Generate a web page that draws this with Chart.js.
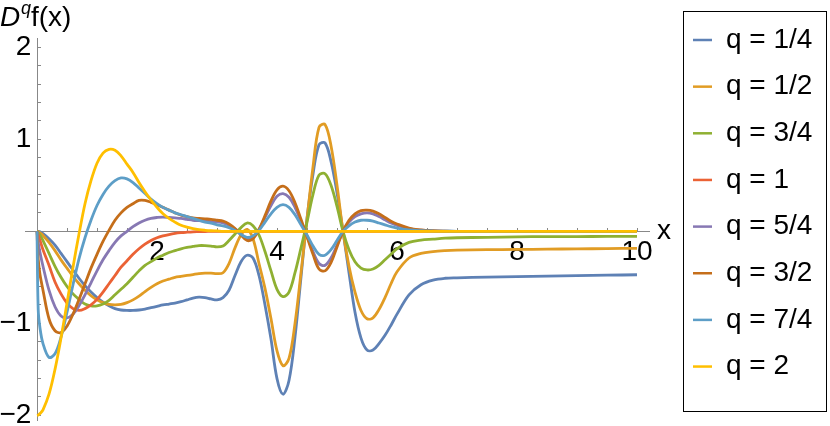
<!DOCTYPE html>
<html>
<head>
<meta charset="utf-8">
<script src="https://cdn.jsdelivr.net/npm/chart.js@4.4.1/dist/chart.umd.min.js"></script>
<style>
  body { margin: 0; background: #fff; }
  #wrap { width: 830px; height: 426px; }
</style>
</head>
<body>
<div id="wrap"><canvas id="chart" width="830" height="426"></canvas></div>
<script>
// x positions shared by every curve
const xValues = [
    0, 0.02, 0.05,
    0.1, 0.2, 0.3, 0.4, 0.5, 0.6, 0.7, 0.8, 0.9, 1.0,
    1.1, 1.2, 1.3, 1.4, 1.5, 1.6, 1.7, 1.8, 1.9, 2.0,
    2.1, 2.2, 2.3, 2.4, 2.5, 2.6, 2.7, 2.8, 2.9, 3.0,
    3.1, 3.2, 3.3, 3.4, 3.5, 3.6, 3.7, 3.8, 3.9, 4.0,
    4.1, 4.2, 4.3, 4.4, 4.5, 4.6, 4.7, 4.8, 4.9, 5.0,
    5.1, 5.2, 5.3, 5.4, 5.5, 5.6, 5.7, 5.8, 5.9, 6.0,
    6.2, 6.4, 6.6, 6.8, 7.0, 7.5, 8.0, 8.5, 9.0, 9.5, 10
];

const qLabels = ['q = 1/4', 'q = 1/2', 'q = 3/4', 'q = 1', 'q = 5/4', 'q = 3/2', 'q = 7/4', 'q = 2'];

const q1_4 = [
    0, -0.001, -0.006,
    -0.025, -0.08, -0.15, -0.24, -0.33, -0.42, -0.51, -0.59, -0.66, -0.72,
    -0.77, -0.81, -0.84, -0.855, -0.86, -0.86, -0.855, -0.845, -0.83, -0.815,
    -0.8, -0.79, -0.78, -0.765, -0.745, -0.725, -0.715, -0.72, -0.735, -0.745,
    -0.72, -0.64, -0.48, -0.33, -0.26, -0.29, -0.48, -0.8, -1.17, -1.6,
    -1.77, -1.62, -1.15, -0.5, 0.14, 0.62, 0.94, 0.96, 0.76, 0.42,
    0.0, -0.45, -0.88, -1.16, -1.29, -1.29, -1.22, -1.13, -1.02, -0.9,
    -0.69, -0.58, -0.53, -0.51, -0.505, -0.497, -0.492, -0.487, -0.482, -0.477, -0.472
];
const q1_2 = [
    0, -0.004, -0.017,
    -0.045, -0.12, -0.21, -0.31, -0.4, -0.49, -0.57, -0.64, -0.7, -0.745,
    -0.775, -0.795, -0.8, -0.795, -0.775, -0.745, -0.705, -0.655, -0.61, -0.57,
    -0.54, -0.52, -0.5, -0.49, -0.48, -0.47, -0.46, -0.455, -0.455, -0.46,
    -0.45, -0.35, -0.18, -0.04, 0.02, -0.08, -0.35, -0.62, -0.95, -1.3,
    -1.46, -1.38, -1.0, -0.45, 0.13, 0.7, 1.13, 1.16, 0.93, 0.5,
    0.0, -0.38, -0.66, -0.86, -0.95, -0.94, -0.85, -0.72, -0.57, -0.44,
    -0.29, -0.24, -0.22, -0.21, -0.205, -0.2, -0.197, -0.194, -0.191, -0.188, -0.185
];
const q3_4 = [
    0, -0.013, -0.042,
    -0.1, -0.24, -0.38, -0.5, -0.6, -0.68, -0.74, -0.79, -0.81, -0.81,
    -0.79, -0.75, -0.69, -0.63, -0.57, -0.5, -0.43, -0.37, -0.33, -0.29,
    -0.26, -0.23, -0.21, -0.19, -0.175, -0.165, -0.155, -0.155, -0.16, -0.17,
    -0.16, -0.1, -0.03, 0.04, 0.09, 0.06, -0.04, -0.22, -0.43, -0.63,
    -0.71, -0.66, -0.45, -0.18, 0.1, 0.4, 0.61, 0.625, 0.5, 0.27,
    0.0, -0.2, -0.33, -0.4, -0.42, -0.41, -0.37, -0.31, -0.25, -0.19,
    -0.12, -0.095, -0.085, -0.075, -0.07, -0.065, -0.06, -0.058, -0.057, -0.056, -0.055
];
const q1 = [
    0, -0.04, -0.1,
    -0.2, -0.37, -0.55, -0.68, -0.78, -0.84, -0.86, -0.84, -0.8, -0.74,
    -0.66, -0.57, -0.48, -0.39, -0.32, -0.25, -0.19, -0.14, -0.1, -0.07,
    -0.05, -0.035, -0.023, -0.015, -0.01, -0.006, -0.004, -0.002, -0.001, 0,
    0, 0, 0, 0, 0, 0, 0, 0, 0, 0,
    0, 0, 0, 0, 0, 0, 0, 0, 0, 0,
    0, 0, 0, 0, 0, 0, 0, 0, 0, 0,
    0, 0, 0, 0, 0, 0, 0, 0, 0, 0, 0
];
const q5_4 = [
    0, -0.12, -0.23,
    -0.38, -0.64, -0.82, -0.92, -0.94, -0.9, -0.81, -0.69, -0.56, -0.43,
    -0.31, -0.21, -0.12, -0.05, 0.0, 0.05, 0.09, 0.12, 0.14, 0.15,
    0.155, 0.15, 0.145, 0.14, 0.13, 0.12, 0.115, 0.11, 0.105, 0.1,
    0.09, 0.065, 0.025, -0.03, -0.085, -0.065, 0.02, 0.15, 0.28, 0.38,
    0.41, 0.37, 0.26, 0.11, -0.05, -0.22, -0.35, -0.37, -0.29, -0.15,
    0.0, 0.1, 0.16, 0.19, 0.2, 0.19, 0.16, 0.125, 0.09, 0.065,
    0.03, 0.012, 0.005, 0.002, 0, 0, 0, 0, 0, 0, 0
];
const q3_2 = [
    0, -0.3, -0.47,
    -0.64, -0.95, -1.08, -1.1, -1.03, -0.9, -0.74, -0.57, -0.4, -0.25,
    -0.11, 0.01, 0.12, 0.2, 0.26, 0.3, 0.335, 0.335, 0.315, 0.29,
    0.26, 0.23, 0.2, 0.175, 0.16, 0.145, 0.14, 0.135, 0.13, 0.12,
    0.11, 0.08, 0.03, -0.04, -0.1, -0.08, 0.02, 0.17, 0.33, 0.45,
    0.49, 0.44, 0.31, 0.13, -0.06, -0.25, -0.41, -0.43, -0.34, -0.17,
    0.0, 0.12, 0.19, 0.225, 0.23, 0.22, 0.19, 0.15, 0.11, 0.08,
    0.035, 0.015, 0.006, 0.002, 0, 0, 0, 0, 0, 0, 0
];
const q7_4 = [
    0, -0.85, -1.05,
    -1.22, -1.37, -1.33, -1.15, -0.88, -0.58, -0.3, -0.07, 0.12, 0.28,
    0.4, 0.49, 0.55, 0.58, 0.57, 0.53, 0.47, 0.41, 0.35, 0.3,
    0.26, 0.23, 0.2, 0.18, 0.16, 0.14, 0.12, 0.1, 0.09, 0.07,
    0.06, 0.04, 0.01, -0.035, -0.065, -0.05, 0.01, 0.1, 0.19, 0.26,
    0.29, 0.26, 0.18, 0.07, -0.04, -0.16, -0.25, -0.26, -0.2, -0.1,
    0.0, 0.06, 0.1, 0.12, 0.12, 0.11, 0.09, 0.07, 0.05, 0.035,
    0.015, 0.007, 0.003, 0.001, 0, 0, 0, 0, 0, 0, 0
];
const q2 = [
    -2.0, -1.997, -1.98,
    -1.94, -1.77, -1.5, -1.16, -0.78, -0.39, -0.03, 0.3, 0.55, 0.74,
    0.85, 0.89, 0.88, 0.82, 0.73, 0.64, 0.53, 0.43, 0.34, 0.26,
    0.19, 0.14, 0.1, 0.066, 0.045, 0.029, 0.018, 0.011, 0.006, 0.004,
    0, 0, 0, 0, 0, 0, 0, 0, 0, 0,
    0, 0, 0, 0, 0, 0, 0, 0, 0, 0,
    0, 0, 0, 0, 0, 0, 0, 0, 0, 0,
    0, 0, 0, 0, 0, 0, 0, 0, 0, 0, 0
];

const xTickValues = [2, 4, 6, 8, 10];
const xTickLabels = ['2', '4', '6', '8', '10'];
const yTickValues = [-2, -1, 1, 2];
const yTickLabels = ['\u22122', '\u22121', '1', '2'];

// Mathematica default palette
const colores = ['#5E81B5', '#E19C24', '#8FB032', '#EB6235', '#8778B3', '#C56E1A', '#5D9EC7', '#FFBF00'];

const series = [q1_4, q1_2, q3_4, q1, q5_4, q3_2, q7_4, q2];
const FONT = '"Liberation Sans", Arial, sans-serif';

Chart.defaults.font.family = FONT;
Chart.defaults.font.size = 28;
Chart.defaults.color = '#000';

// axis titles: D^q f(x) on top, x at the right end
const axisTitles = {
    id: 'axisTitles',
    afterDraw(chart) {
        const ctx = chart.ctx;
        const { x, y } = chart.scales;
        ctx.save();
        ctx.fillStyle = '#000';
        ctx.textBaseline = 'alphabetic';
        ctx.textAlign = 'left';
        ctx.font = 'italic 28px ' + FONT;
        ctx.fillText('D', 0, 26);
        ctx.font = 'italic 18px ' + FONT;
        ctx.fillText('q', 21, 14);
        ctx.font = '28px ' + FONT;
        ctx.fillText('f(x)', 31, 26);
        ctx.textBaseline = 'middle';
        ctx.fillText('x', x.right + 8, y.getPixelForValue(0));
        ctx.restore();
    }
};

// boxed legend on the right
const legendBox = {
    id: 'legendBox',
    afterDraw(chart) {
        const ctx = chart.ctx;
        ctx.save();
        ctx.strokeStyle = '#000';
        ctx.lineWidth = 1;
        ctx.strokeRect(683.5, 11.5, 143, 400);
        ctx.font = '28px ' + FONT;
        ctx.textBaseline = 'middle';
        ctx.textAlign = 'left';
        chart.data.datasets.forEach((ds, i) => {
            const cy = 40 + i * 46.65;
            ctx.strokeStyle = ds.borderColor;
            ctx.lineWidth = 2.5;
            ctx.beginPath();
            ctx.moveTo(693, cy);
            ctx.lineTo(712, cy);
            ctx.stroke();
            ctx.fillStyle = '#000';
            ctx.fillText(ds.label, 726, cy);
        });
        ctx.restore();
    }
};

const datasets = series.map((vals, i) => ({
    label: qLabels[i],
    data: xValues.map((x, k) => ({ x: x, y: vals[k] })),
    borderColor: colores[i],
    backgroundColor: colores[i],
    borderWidth: 2.8,
    pointRadius: 0,
    tension: 0.35,
    order: series.length - i
}));

new Chart(document.getElementById('chart'), {
    type: 'line',
    data: { datasets: datasets },
    options: {
        responsive: false,
        animation: false,
        layout: { padding: { left: 25, right: 181, top: 38, bottom: 6 } },
        plugins: { legend: { display: false }, tooltip: { enabled: false } },
        scales: {
            x: {
                type: 'linear',
                min: -0.2,
                max: 10.2,
                position: { y: 0 },
                border: { color: '#888', width: 1 },
                grid: { drawOnChartArea: false, drawTicks: true, tickLength: -4, color: '#888' },
                ticks: {
                    stepSize: 0.5,
                    autoSkip: false,
                    includeBounds: false,
                    maxRotation: 0,
                    padding: 8,
                    callback: v => {
                        const k = xTickValues.indexOf(v);
                        return k < 0 ? '' : xTickLabels[k];
                    }
                },
                afterFit: s => { s.paddingLeft = 0; s.paddingRight = 0; }
            },
            y: {
                type: 'linear',
                min: -2.05,
                max: 2.1,
                position: { x: 0 },
                border: { color: '#888', width: 1 },
                grid: { drawOnChartArea: false, drawTicks: true, tickLength: -4, color: '#888' },
                ticks: {
                    stepSize: 0.2,
                    autoSkip: false,
                    includeBounds: false,
                    callback: v => {
                        const k = yTickValues.indexOf(v);
                        return k < 0 ? '' : yTickLabels[k] + '\u2009';
                    }
                },
                afterFit: s => { s.paddingTop = 0; s.paddingBottom = 0; }
            }
        }
    },
    plugins: [axisTitles, legendBox]
});
</script>
</body>
</html>
